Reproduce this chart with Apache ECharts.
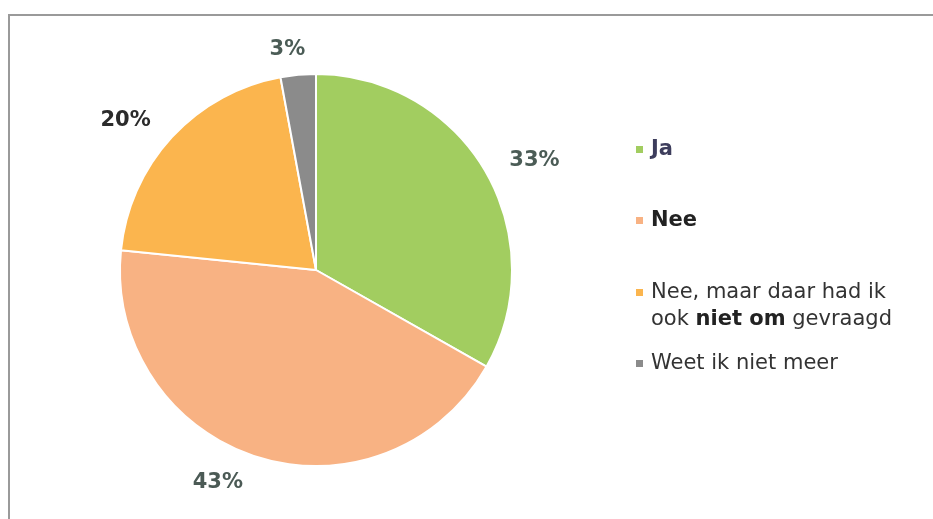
<!DOCTYPE html>
<html>
<head>
<meta charset="utf-8">
<script src="https://cdn.jsdelivr.net/npm/echarts@6/dist/echarts.min.js"></script>
<style>
html,body{margin:0;padding:0;background:#fff;}
#c{width:933px;height:519px;}
</style>
</head>
<body>
<div id="c"></div>
<script>
const categories = ['Ja', 'Nee', 'Nee, maar daar had ik ook niet om gevraagd', 'Weet ik niet meer'];
const values = [33.2, 43.4, 20.5, 2.9];
const shownPercents = [33, 43, 20, 3];
const colors = ['#a2cd60', '#f8b283', '#fbb54e', '#8b8b8b'];

const chart = echarts.init(document.getElementById('c'), null, {renderer: 'canvas'});
const font = 'DejaVu Sans, Verdana, sans-serif';
const FS = 21;
const labelColors = ['#4b5c56', '#4b5a55', '#2b2b2b', '#4b5c56'];
const labelOffsets = [[0, 0], [-2, 5], [0, -2], [14, -3]];

const data = categories.map((n, i) => ({
  name: n,
  value: values[i],
  itemStyle: {color: colors[i]},
  label: {color: labelColors[i], offset: labelOffsets[i]}
}));

function legendFor(i, top, extra) {
  return Object.assign({
    data: [categories[i]],
    orient: 'vertical',
    left: 636,
    top: top,
    padding: 0,
    itemWidth: 7,
    itemHeight: 7,
    icon: 'rect',
    selectedMode: false,
    itemStyle: {borderWidth: 0},
    textStyle: {fontFamily: font, fontSize: FS, color: '#333', padding: [0, 0, 0, 3]}
  }, extra || {});
}

const option = {
  animation: false,
  backgroundColor: '#ffffff',
  graphic: [{
    type: 'polyline',
    shape: {points: [[933, 15], [9, 15], [9, 519]]},
    style: {stroke: '#9a9a9a', lineWidth: 2, fill: null}
  }],
  legend: [
    legendFor(0, 139, {formatter: () => '{a|Ja}', textStyle: {fontFamily: font, fontSize: FS, padding: [0,0,0,3], rich: {a: {fontFamily: font, fontSize: FS, fontWeight: 'bold', color: '#3d3d5c'}}}}),
    legendFor(1, 210, {textStyle: {fontFamily: font, fontSize: FS, fontWeight: 'bold', color: '#222', padding: [0,0,0,3]}}),
    legendFor(2, 279, {
      icon: 'path://M0,0L7,0L7,7L0,7Z M0,34L7,34',
      itemHeight: 34,
      formatter: () => 'Nee, maar daar had ik\n{n|ook }{b|niet om}{n| gevraagd}',
      textStyle: {fontFamily: font, fontSize: FS, color: '#333', lineHeight: 27, padding: [0,0,0,3],
        rich: {
          n: {fontFamily: font, fontSize: FS, color: '#333', lineHeight: 27},
          b: {fontFamily: font, fontSize: FS, color: '#222', fontWeight: 'bold', lineHeight: 27}
        }}
    }),
    legendFor(3, 353)
  ],
  series: [{
    type: 'pie',
    center: [316, 270],
    radius: 196,
    startAngle: 90,
    clockwise: true,
    avoidLabelOverlap: false,
    itemStyle: {borderColor: '#ffffff', borderWidth: 2},
    label: {
      show: true,
      position: 'outside',
      fontFamily: font,
      fontSize: FS,
      fontWeight: 'bold',
      formatter: p => shownPercents[p.dataIndex] + '%'
    },
    labelLine: {show: false, length: 22, length2: 0},
    emphasis: {disabled: true},
    data: data
  }]
};
chart.setOption(option);
</script>
</body>
</html>
